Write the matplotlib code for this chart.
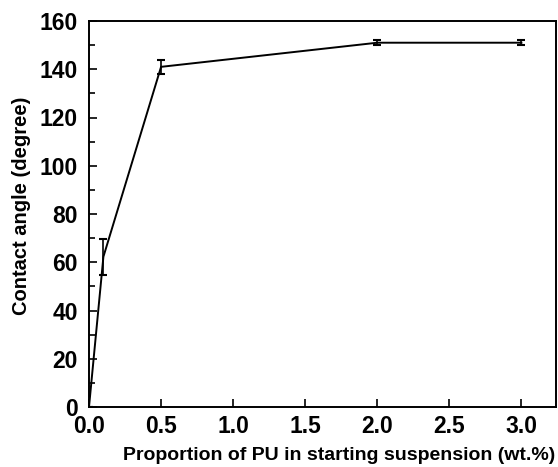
import matplotlib
matplotlib.use("Agg")
import matplotlib.pyplot as plt
from matplotlib.ticker import MultipleLocator

plt.rcParams['font.family'] = ['Liberation Sans', 'DejaVu Sans']
plt.rcParams['font.weight'] = 'bold'

pu_wt = [0.0, 0.1, 0.5, 2.0, 3.0]
contact_angle = [0.0, 62.3, 141.0, 151.0, 151.0]
angle_err = [0.0, 7.4, 3.0, 1.0, 1.0]

fig = plt.figure(figsize=(5.58, 4.67), dpi=100)
ax = fig.add_axes([89 / 558, 1 - 407 / 467, (556 - 89) / 558, (407 - 21) / 467])

ax.errorbar(pu_wt, contact_angle, yerr=angle_err, color="black", linewidth=1.4,
            elinewidth=1.2, capsize=3, capthick=1.5)

ax.set_xlim(0, 3.24)
ax.set_ylim(0, 160)
ax.xaxis.set_major_locator(MultipleLocator(0.5))
ax.yaxis.set_major_locator(MultipleLocator(20))
ax.yaxis.set_minor_locator(MultipleLocator(10))
ax.xaxis.set_major_formatter(matplotlib.ticker.FormatStrFormatter("%.1f"))
ax.tick_params(direction="in", which="both", top=False, right=False, labelsize=16.5, width=1.2)
ax.tick_params(axis="y", pad=8)
ax.tick_params(axis="x", pad=6)
ax.tick_params(which="major", length=6)
ax.tick_params(which="minor", length=4)
for s in ax.spines.values():
    s.set_linewidth(1.4)

ax.set_xlabel("Proportion of PU in starting suspension (wt.%)", fontsize=14, fontweight="bold",
              labelpad=6, x=0.535)
ax.set_ylabel("Contact angle (degree)", fontsize=14.5, fontweight="bold", labelpad=6, y=0.52)

fig.savefig("out.png", dpi=100)
